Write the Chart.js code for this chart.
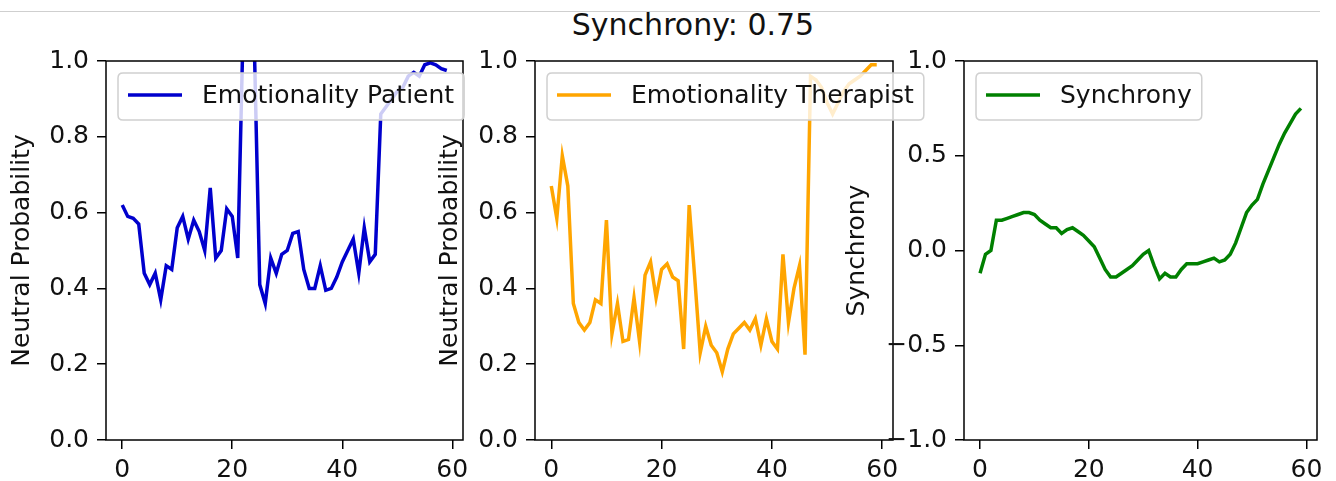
<!DOCTYPE html>
<html>
<head>
<meta charset="utf-8">
<script src="https://cdn.jsdelivr.net/npm/chart.js@4.4.1/dist/chart.umd.min.js"></script>
<style>
  body { margin: 0; background: #fff; width: 1336px; height: 481px; position: relative; overflow: hidden; font-family: "DejaVu Sans", sans-serif; }
  #rayaTop { position: absolute; left: 0; top: 11px; width: 1320px; height: 0; border-top: 1px solid #cfcfcf; }
  #titulo { position: absolute; left: 0; top: 7px; width: 1386px; text-align: center; font-size: 30px; line-height: 36px; color: #111; }
  canvas { position: absolute; top: 0; }
</style>
</head>
<body>
<div id="rayaTop"></div>
<div id="titulo">Synchrony: 0.75</div>
<canvas id="panelPaciente" width="475" height="481" style="left:0px"></canvas>
<canvas id="panelTerapeuta" width="506" height="481" style="left:430px"></canvas>
<canvas id="panelSync" width="501" height="481" style="left:835px"></canvas>
<script>
// datos (60 pasos, 0..59)
const emoPaciente = [0.62,0.59,0.585,0.57,0.44,0.41,0.44,0.37,0.46,0.45,
  0.56,0.59,0.53,0.58,0.55,0.50,0.665,0.48,0.50,0.61,
  0.59,0.48,1.10,1.10,1.05,0.41,0.36,0.48,0.44,0.49,
  0.50,0.545,0.55,0.45,0.40,0.40,0.46,0.395,0.40,0.43,
  0.47,0.50,0.53,0.44,0.56,0.47,0.49,0.86,0.88,0.90,
  0.92,0.93,0.96,0.97,0.96,0.99,0.995,0.99,0.98,0.975];
const emoTerapeuta = [0.67,0.585,0.75,0.67,0.36,0.31,0.29,0.31,0.37,0.36,
  0.58,0.28,0.36,0.26,0.265,0.375,0.26,0.435,0.47,0.375,
  0.45,0.465,0.43,0.42,0.24,0.62,0.43,0.23,0.30,0.25,
  0.23,0.18,0.24,0.28,0.295,0.31,0.29,0.32,0.25,0.32,
  0.26,0.24,0.49,0.31,0.40,0.46,0.225,0.96,0.95,0.93,
  0.89,0.86,0.89,0.92,0.94,0.95,0.96,0.975,0.99,0.99];
const sincronia = [-0.12,-0.02,0.00,0.16,0.16,0.17,0.18,0.19,0.20,0.20,
  0.19,0.16,0.14,0.12,0.12,0.09,0.11,0.12,0.10,0.08,
  0.05,0.02,-0.04,-0.10,-0.14,-0.14,-0.12,-0.10,-0.08,-0.05,
  -0.02,0.00,-0.08,-0.15,-0.12,-0.14,-0.14,-0.10,-0.07,-0.07,
  -0.07,-0.06,-0.05,-0.04,-0.06,-0.05,-0.02,0.04,0.12,0.20,
  0.24,0.27,0.35,0.42,0.49,0.56,0.62,0.67,0.72,0.75];
const ticksX = [0, 20, 40, 60];
const ticksProb = [0.0, 0.2, 0.4, 0.6, 0.8, 1.0];
const ticksSync = [-1.0, -0.5, 0.0, 0.5, 1.0];

const FUENTE = '"DejaVu Sans", sans-serif';

// marco completo (los 4 lados del eje)
const marco = {
  id: 'marco',
  afterDatasetsDraw(chart) {
    const { ctx, chartArea: a } = chart;
    ctx.save(); ctx.strokeStyle = '#000'; ctx.lineWidth = 1.5;
    ctx.strokeRect(a.left, a.top, a.right - a.left, a.bottom - a.top);
    ctx.restore();
  }
};

// leyenda tipo matplotlib, semitransparente encima de las lineas
const leyenda = {
  id: 'leyenda',
  afterDraw(chart, args, opts) {
    const { ctx, chartArea: a } = chart;
    ctx.save();
    ctx.font = '25px ' + FUENTE;
    let tw = ctx.measureText(opts.texto).width;
    let x = a.left + 12, y = a.top + 12, w = 10 + 54 + 20 + tw + 10, h = 47, r = 5;
    ctx.beginPath();
    ctx.moveTo(x + r, y); ctx.lineTo(x + w - r, y); ctx.quadraticCurveTo(x + w, y, x + w, y + r);
    ctx.lineTo(x + w, y + h - r); ctx.quadraticCurveTo(x + w, y + h, x + w - r, y + h);
    ctx.lineTo(x + r, y + h); ctx.quadraticCurveTo(x, y + h, x, y + h - r);
    ctx.lineTo(x, y + r); ctx.quadraticCurveTo(x, y, x + r, y);
    ctx.closePath();
    ctx.fillStyle = 'rgba(255,255,255,0.8)'; ctx.fill();
    ctx.strokeStyle = '#d0d0d0'; ctx.lineWidth = 1.5; ctx.stroke();
    ctx.beginPath(); ctx.moveTo(x + 10, y + 22); ctx.lineTo(x + 64, y + 22);
    ctx.strokeStyle = opts.color; ctx.lineWidth = 3.5; ctx.stroke();
    ctx.fillStyle = '#111'; ctx.textBaseline = 'middle';
    ctx.fillText(opts.texto, x + 84, y + 23);
    ctx.restore();
  }
};

function crearPanel(idCanvas, valores, color, etiqueta, tituloY, yMin, yMax, ticksY, anchoY, padDer, padTitulo) {
  let puntos = valores.map((v, i) => ({ x: i, y: v }));
  let ejeComun = {
    grid: { display: true, drawOnChartArea: false, drawTicks: true, tickLength: 9, color: '#000', lineWidth: 1.5 },
    border: { display: false }
  };
  return new Chart(document.getElementById(idCanvas), {
    type: 'line',
    data: { datasets: [{ label: etiqueta, data: puntos, borderColor: color, borderWidth: 3.5, pointRadius: 0, tension: 0, fill: false }] },
    options: {
      responsive: false, animation: false, devicePixelRatio: 1,
      layout: { padding: { left: 0, right: padDer, top: 61, bottom: 0 } },
      plugins: { legend: { display: false }, tooltip: { enabled: false }, leyenda: { texto: etiqueta, color: color } },
      scales: {
        x: {
          ...ejeComun, type: 'linear', min: -2.95, max: 61.95,
          afterBuildTicks: s => { s.ticks = ticksX.map(v => ({ value: v })); },
          afterFit: s => { s.height = 41; },
          ticks: { color: '#111', font: { family: FUENTE, size: 25 }, padding: 6, maxRotation: 0, callback: v => String(v) }
        },
        y: {
          ...ejeComun, min: yMin, max: yMax,
          afterBuildTicks: s => { s.ticks = ticksY.map(v => ({ value: v })); },
          afterFit: s => { s.width = anchoY; },
          ticks: { color: '#111', font: { family: FUENTE, size: 25 }, padding: 8, callback: v => v.toFixed(1).replace('-', '\u2212') },
          title: { display: true, text: tituloY, color: '#111', font: { family: FUENTE, size: 25 }, padding: { top: padTitulo, bottom: 0 } }
        }
      }
    },
    plugins: [marco, leyenda]
  });
}

crearPanel('panelPaciente', emoPaciente, '#0000CD', 'Emotionality Patient', 'Neutral Probability', 0, 1, ticksProb, 106, 12, 7);
crearPanel('panelTerapeuta', emoTerapeuta, '#FFA500', 'Emotionality Therapist', 'Neutral Probability', 0, 1, ticksProb, 105, 43, 5);
crearPanel('panelSync', sincronia, '#008000', 'Synchrony', 'Synchrony', -1, 1, ticksSync, 129, 19, 7);
</script>
</body>
</html>
